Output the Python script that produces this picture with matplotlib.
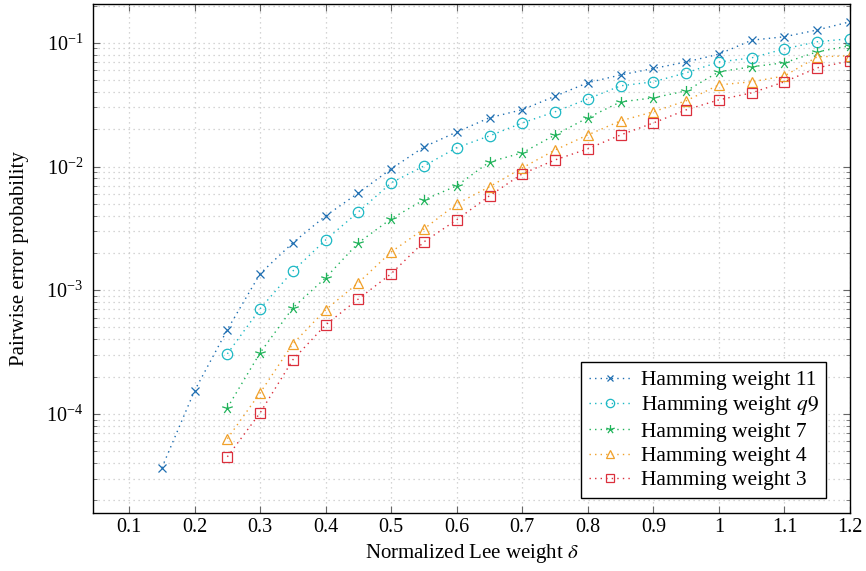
import numpy as np
import matplotlib.pyplot as plt
from matplotlib.path import Path
from matplotlib.ticker import LogLocator, NullFormatter, MultipleLocator, FormatStrFormatter

plt.rcParams['font.family'] = ['Liberation Serif', 'DejaVu Serif']
plt.rcParams['mathtext.fontset'] = 'stix'

# normalized Lee weight
delta_11 = [0.15, 0.2, 0.25, 0.3, 0.35, 0.4, 0.45, 0.5, 0.55, 0.6, 0.65, 0.7, 0.75,
            0.8, 0.85, 0.9, 0.95, 1.0, 1.05, 1.1, 1.15, 1.2]
delta_rest = [0.25, 0.3, 0.35, 0.4, 0.45, 0.5, 0.55, 0.6, 0.65, 0.7, 0.75,
              0.8, 0.85, 0.9, 0.95, 1.0, 1.05, 1.1, 1.15, 1.2]

pep_w11 = [3.66e-5, 1.54e-4, 4.8e-4, 1.36e-3, 2.42e-3, 3.99e-3, 6.12e-3, 9.57e-3, 1.44e-2,
           1.9e-2, 2.48e-2, 2.88e-2, 3.7e-2, 4.76e-2, 5.5e-2, 6.2e-2, 7.0e-2, 8.1e-2,
           0.105, 0.112, 0.127, 0.148]
pep_w9 = [3.06e-4, 7.08e-4, 1.43e-3, 2.55e-3, 4.3e-3, 7.38e-3, 1.01e-2, 1.42e-2, 1.77e-2,
          2.25e-2, 2.77e-2, 3.52e-2, 4.49e-2, 4.84e-2, 5.72e-2, 7.0e-2, 7.56e-2, 8.94e-2,
          0.102, 0.108]
pep_w7 = [1.12e-4, 3.12e-4, 7.2e-4, 1.26e-3, 2.42e-3, 3.78e-3, 5.38e-3, 6.98e-3, 1.09e-2,
          1.29e-2, 1.8e-2, 2.48e-2, 3.33e-2, 3.59e-2, 4.09e-2, 5.83e-2, 6.4e-2, 6.9e-2,
          8.46e-2, 9.46e-2]
pep_w4 = [6.3e-5, 1.48e-4, 3.69e-4, 6.95e-4, 1.15e-3, 2.04e-3, 3.13e-3, 4.99e-3, 6.86e-3,
          9.75e-3, 1.36e-2, 1.8e-2, 2.34e-2, 2.77e-2, 3.4e-2, 4.57e-2, 4.84e-2, 5.4e-2,
          7.7e-2, 7.86e-2]
pep_w3 = [4.5e-5, 1.02e-4, 2.74e-4, 5.25e-4, 8.5e-4, 1.36e-3, 2.46e-3, 3.71e-3, 5.8e-3,
          8.73e-3, 1.13e-2, 1.39e-2, 1.8e-2, 2.25e-2, 2.87e-2, 3.46e-2, 3.94e-2, 4.84e-2,
          6.28e-2, 7.14e-2]

labels = ['Hamming weight 11', 'Hamming weight $q9$', 'Hamming weight 7',
          'Hamming weight 4', 'Hamming weight 3']

# pgfplots-like "star": 5 spokes drawn as lines
ang = np.pi / 2 + np.arange(5) * 2 * np.pi / 5
verts, codes = [], []
for a in ang:
    verts += [(0, 0), (np.cos(a), np.sin(a))]
    codes += [Path.MOVETO, Path.LINETO]
star = Path(verts, codes)

fig = plt.figure(figsize=(8.66, 5.71), dpi=100)
ax = fig.add_axes([93 / 866, 1 - 513 / 571, (850 - 93) / 866, (513 - 4) / 571])

series = [
    (delta_11, pep_w11, '#1f6fb2', 'x', 5.5),
    (delta_rest, pep_w9, '#1cb8c4', 'o', 7.5),
    (delta_rest, pep_w7, '#20b35a', star, 8),
    (delta_rest, pep_w4, '#f0a02a', '^', 7.5),
    (delta_rest, pep_w3, '#db2f3c', 's', 7),
]
for (xs, ys, c, m, ms), lab in zip(series, labels):
    ax.plot(xs, ys, ls=(0, (1, 3)), lw=1.0, color=c, marker=m, ms=ms, mfc='none',
            mec=c, mew=0.9, label=lab)

ax.set_yscale('log')
ax.set_xlim(0.045, 1.2)
ax.set_ylim(1.58e-5, 0.206)
ax.xaxis.set_major_locator(MultipleLocator(0.1))
ax.xaxis.set_major_formatter(FormatStrFormatter('%g'))
ax.yaxis.set_major_locator(LogLocator(base=10, numticks=10))
ax.yaxis.set_minor_locator(LogLocator(base=10, subs=np.arange(2, 10), numticks=20))
ax.yaxis.set_minor_formatter(NullFormatter())

ax.tick_params(which='both', direction='in', top=True, right=True, labelsize=14.5,
               color='#666666')
ax.tick_params(which='major', length=5)
ax.tick_params(which='minor', length=3)
ax.tick_params(axis='y', pad=7)
ax.grid(which='major', ls=(0, (1, 3)), color='#c8c8c8', lw=0.9)
ax.grid(which='minor', axis='y', ls=(0, (1, 3)), color='#c8c8c8', lw=0.9)

ax.set_xlabel(r'Normalized Lee weight $\delta$', fontsize=15)
ax.set_ylabel('Pairwise error probability', fontsize=15)
ax.yaxis.set_label_coords(-0.084, 0.5)

leg = ax.legend(loc='lower right', bbox_to_anchor=((826 - 93) / 757, (513 - 498) / 509),
                fontsize=15.5, fancybox=False, edgecolor='black', framealpha=1,
                handlelength=2.0, handletextpad=0.4, labelspacing=0.2,
                borderaxespad=0.0, markerscale=0.8, borderpad=0.35)
leg.get_frame().set_linewidth(1.0)

for s in ax.spines.values():
    s.set_linewidth(1.0)

fig.savefig('out.png', dpi=100)
